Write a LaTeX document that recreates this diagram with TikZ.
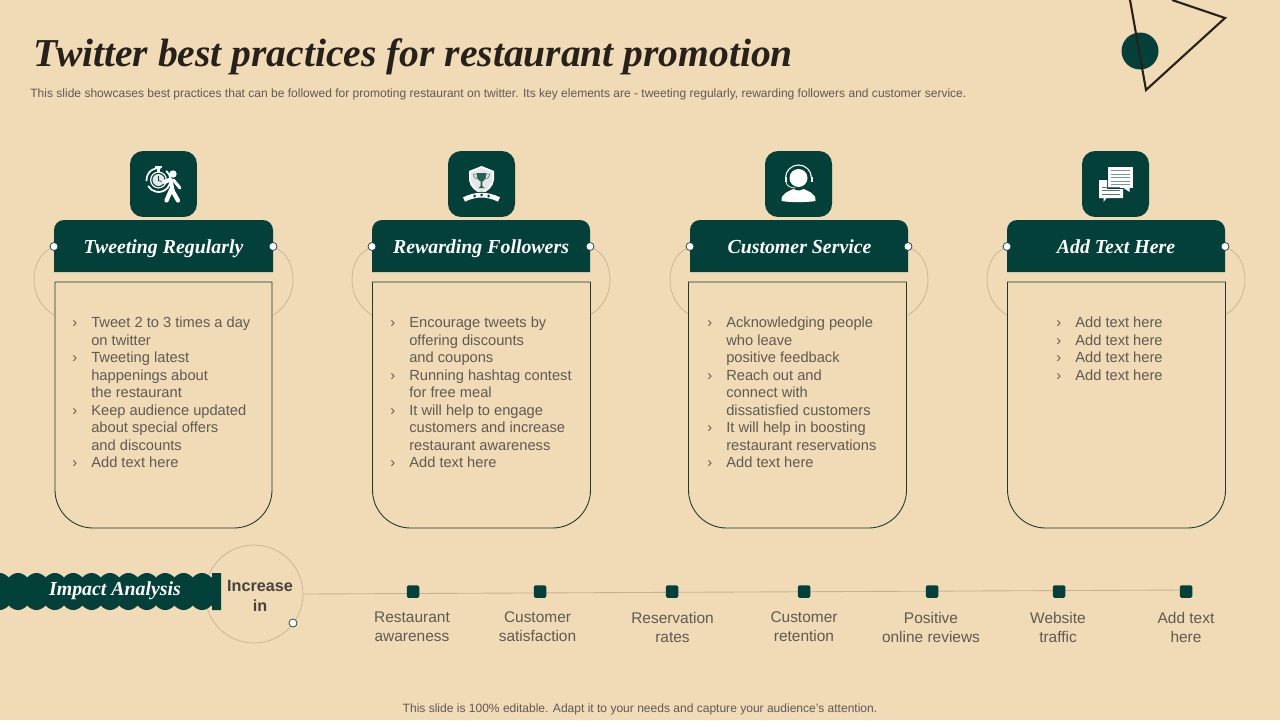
\documentclass[tikz,border=0pt]{standalone}
\usepackage{fontspec}
\setmainfont{Liberation Sans}
\newfontfamily\headfont{Liberation Serif}
\usetikzlibrary{calc}
\definecolor{slidebg}{HTML}{F1DAB6}
\definecolor{deepgreen}{HTML}{04403A}
\definecolor{inkdark}{HTML}{26211B}
\definecolor{bodygray}{HTML}{5E5B55}
\definecolor{softline}{HTML}{C6B38F}
\definecolor{panelline}{HTML}{173D30}
\newcommand{\bul}{\makebox[10.8pt][l]{›}}
\newcommand{\ind}{\hspace*{10.8pt}}
\tikzset{
    iconbox/.style={fill=deepgreen,rounded corners=0.26cm,minimum width=1.34cm,minimum height=1.32cm,inner sep=0},
    headtext/.style={text=white,inner sep=0,anchor=base,font=\headfont\bfseries\itshape\fontsize{11.3}{14}\selectfont},
    bodytext/.style={text=bodygray,align=left,anchor=north west,inner sep=0,font=\fontsize{8.35}{9.98}\selectfont},
    ringdot/.style={circle,draw=deepgreen,fill=white,line width=0.4pt,minimum size=0.16cm,inner sep=0},
    stopmark/.style={fill=deepgreen,rounded corners=0.03cm,minimum size=0.25cm,inner sep=0},
    stoplabel/.style={text=bodygray,align=center,inner sep=0,font=\fontsize{8.8}{10.8}\selectfont},
    sideline/.style={draw=softline,line width=0.4pt},
}
\begin{document}
\begin{tikzpicture}[x=0.02cm,y=-0.02cm]
\useasboundingbox[fill=slidebg] (0,0) rectangle (1280,720);
% corner decoration
\fill[deepgreen] (1140,51) circle (18.5);
\draw[inkdark,line width=0.42mm] (1130,0) -- (1146,90) -- (1225,18) -- (1172,0);
% title and subtitle
\node[anchor=base west,inner sep=0,text=inkdark,font=\headfont\bfseries\itshape\fontsize{22.5}{26}\selectfont] (title) at (33,66) {Twitter best practices for restaurant promotion};
\node[anchor=base west,inner sep=0,text=bodygray,font=\fontsize{6.85}{8}\selectfont] (subtitle) at (30,97) {This slide showcases best practices that can be followed for promoting restaurant on twitter. Its key elements are - tweeting regularly, rewarding followers and customer service.};
% four columns
\foreach \i/\xa/\xb/\xc/\xd/\xi/\xt/\head in {1/54/273/55/272/163.5/163.5/Tweeting Regularly,2/372/590/372.5/590.5/481.5/481/Rewarding Followers,3/690/908/688.5/906.5/798.5/799.5/Customer Service,4/1007/1225/1007.5/1225.5/1115.5/1116/Add Text Here}{
    \draw[sideline] (\xa,247) .. controls ({\xa-14},252) and ({\xa-20},265) .. ({\xa-20},280) .. controls ({\xa-20},295) and ({\xa-12},308) .. (\xa,315);
    \draw[sideline] (\xb,247) .. controls ({\xb+14},252) and ({\xb+20},265) .. ({\xb+20},280) .. controls ({\xb+20},295) and ({\xb+12},308) .. (\xb,315);
    \filldraw[fill=slidebg,draw=panelline,line width=0.5pt] (\xc,282) -- (\xd,282) -- (\xd,490) arc[start angle=0,end angle=90,radius=38] -- ({\xc+38},528) arc[start angle=90,end angle=180,radius=38] -- cycle;
    \fill[deepgreen] (\xa,272) -- (\xa,230) arc[start angle=180,end angle=270,radius=10] -- ({\xb-10},220) arc[start angle=270,end angle=360,radius=10] -- (\xb,272) -- cycle;
    \node[headtext] (head\i) at (\xt,253) {\head};
    \node[ringdot] (dotl\i) at (\xa,246.5) {};
    \node[ringdot] (dotr\i) at (\xb,246.5) {};
    \node[iconbox] (icon\i) at (\xi,184) {};
}
% column texts
\node[bodytext] (body1) at (72,316.7) {\bul Tweet 2 to 3 times a day\\\ind on twitter\\\bul Tweeting latest\\\ind happenings about\\\ind the restaurant\\\bul Keep audience updated\\\ind about special offers\\\ind and discounts\\\bul Add text here};
\node[bodytext] (body2) at (390,316.7) {\bul Encourage tweets by\\\ind offering discounts\\\ind and coupons\\\bul Running hashtag contest\\\ind for free meal\\\bul It will help to engage\\\ind customers and increase\\\ind restaurant awareness\\\bul Add text here};
\node[bodytext] (body3) at (707,316.7) {\bul Acknowledging people\\\ind who leave\\\ind positive feedback\\\bul Reach out and\\\ind connect with\\\ind dissatisfied customers\\\bul It will help in boosting\\\ind restaurant reservations\\\bul Add text here};
\node[bodytext] (body4) at (1056,316.7) {\bul Add text here\\\bul Add text here\\\bul Add text here\\\bul Add text here};
% icon: clock and walker
\begin{scope}[shift={(icon1.center)},white]
\draw[line width=0.35mm] (-5,-4) ++(-50:12) arc[start angle=-50,end angle=150,radius=12];
\draw[line width=0.35mm] (-5,-4) ++(175:12) arc[start angle=175,end angle=280,radius=12];
\fill (-5,-4) circle (8.5);
\fill[deepgreen] (-5,-4) circle (7.2);
\fill[white!88!deepgreen] (-5,-4) circle (6);
\draw[deepgreen,line width=0.15mm] (-5,-8) -- (-5,-3.5) -- (-2,-2.5);
\fill (-8.5,-18) rectangle (-2,-16);
\fill (-6.5,-17) rectangle (-4,-12);
\fill (9.5,-10) circle (3.7);
\draw[line width=0.8mm,line cap=round,line join=round] (1,-2) -- (7,-4.5) -- (9,6);
\draw[line width=0.6mm,line cap=round,line join=round] (10,-4) -- (16.5,4);
\draw[line width=0.85mm,line cap=round,line join=round] (3,16.5) -- (8,5) -- (14.5,16.5);
\end{scope}
% icon: shield and ribbon
\begin{scope}[shift={(icon2.center)}]
\fill[white] (0,-18) -- (12.5,-13) -- (12.5,-4) .. controls (12,3) and (5,8) .. (0,10) .. controls (-5,8) and (-12,3) .. (-12.5,-4) -- (-12.5,-13) -- cycle;
\fill[deepgreen!12!white] (0,-16) -- (10.5,-11.5) -- (10.5,-4) .. controls (10,2) and (4,6) .. (0,8) .. controls (-4,6) and (-10,2) .. (-10.5,-4) -- (-10.5,-11.5) -- cycle;
\fill[deepgreen!85!white] (-5,-11) -- (5,-11) .. controls (5,-5) and (2,-3) .. (0.8,-2.5) -- (0.8,2) -- (3,4) -- (-3,4) -- (-0.8,2) -- (-0.8,-2.5) .. controls (-2,-3) and (-5,-5) .. (-5,-11) -- cycle;
\draw[deepgreen!85!white,line width=0.1mm] (-5,-10) -- (-8,-10) .. controls (-8,-6) and (-5,-5) .. (-3.5,-5);
\draw[deepgreen!85!white,line width=0.1mm] (5,-10) -- (8,-10) .. controls (8,-6) and (5,-5) .. (3.5,-5);
\draw[deepgreen,line width=1.3mm] (-16,15) .. controls (-6,9.7) and (6,9.7) .. (16,15);
\draw[white,line width=0.95mm] (-17.5,15.5) .. controls (-6,9.7) and (6,9.7) .. (17.5,15.5);
\foreach \sx/\sy in {-7/12,0/11,7/12}{\fill[deepgreen] (\sx,\sy) circle (1.5);}
\end{scope}
% icon: agent with headset
\begin{scope}[shift={(icon3.center)},white]
\fill (0,-6) circle (9);
\draw[line width=0.22mm] (-13,-6) arc[start angle=180,end angle=360,radius=13];
\fill (-14,-7) rectangle (-12,-2);
\fill (12,-7) rectangle (14,-2);
\draw[line width=0.15mm] (-12.5,-2) .. controls (-12,2) and (-8,4) .. (-3,4);
\fill (-17,17) .. controls (-18,9) and (-8,6.5) .. (-5,5) .. controls (-2,7) and (2,7) .. (5,5) .. controls (8,6.5) and (18,9) .. (17,17) .. controls (8,18.5) and (-8,18.5) .. (-17,17) -- cycle;
\end{scope}
% icon: two speech notes
\begin{scope}[shift={(icon4.center)}]
\fill[white] (-7.5,-17) rectangle (17.5,4);
\fill[white] (8,4) -- (14,4) -- (14,8) -- cycle;
\foreach \ly in {-13.5,-10,-6.5,-3,0.5}{\draw[deepgreen!55!white,line width=0.2mm] (-4.5,\ly) -- (14.5,\ly);}
\fill[deepgreen] (-17.5,-5) rectangle (-7.5,15);
\fill[deepgreen] (-17.5,5) rectangle (8.5,15);
\fill[white] (-16.5,-4) -- (-8.5,-4) -- (-8.5,5) -- (7.5,5) -- (7.5,14) -- (-9,14) -- (-12,18) -- (-12,14) -- (-16.5,14) -- cycle;
\foreach \ly in {3,6.5,10}{\draw[deepgreen!70!white,line width=0.2mm] (-13.5,\ly) -- (4,\ly);}
\end{scope}
% impact analysis strip
\node[circle,sideline,fill=none,minimum size=1.96cm,inner sep=0] (incr) at (254,594) {};
\coordinate (stopend) at (1186,590);
\draw[softline,line width=0.5pt] (incr.east) -- (stopend);
\fill[deepgreen] plot[domain=0:212,samples=425] (\x,{578-2.5*abs(cos((\x+0.4)/18.4*180))-2.5*sqrt(abs(cos((\x+0.4)/18.4*180)))}) -- (212,573) -- (221,573) -- (221,610) -- (212,610) -- plot[domain=212:0,samples=425] (\x,{605+2.5*abs(cos((\x+0.4)/18.4*180))+2.5*sqrt(abs(cos((\x+0.4)/18.4*180)))}) -- cycle;
\node[headtext] (impact) at (115,595) {Impact Analysis};
\node[inner sep=0,align=center,text=inkdark!85!white,font=\bfseries\fontsize{9.2}{11.4}\selectfont] (incrtext) at (260,595.5) {Increase\\in};
\node[ringdot] (incrdot) at (293,623) {};
% timeline stops
\foreach \j/\xs/\xl/\lab in {1/413/412/Restaurant\\awareness,2/540/537.5/Customer\\satisfaction,3/672/672.5/Reservation\\rates,4/804/804/Customer\\retention,5/932/931/Positive\\online reviews,6/1059/1058/Website\\traffic,7/1186/1186/Add text\\here}{
    \node[stopmark] (stop\j) at (\xs,591.5) {};
    \node[stoplabel] (stoplab\j) at (\xl,627) {\lab};
}
% footer
\node[anchor=base,inner sep=0,text=bodygray,font=\fontsize{6.85}{8}\selectfont] (footer) at (640,712) {This slide is 100\% editable. Adapt it to your needs and capture your audience's attention.};
\end{tikzpicture}
\end{document}
